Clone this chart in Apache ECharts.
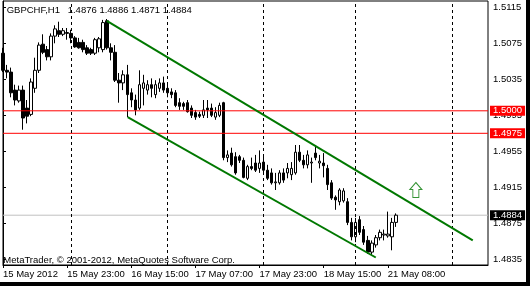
<!DOCTYPE html>
<html><head><meta charset="utf-8">
<script src="https://cdn.jsdelivr.net/npm/echarts@6/dist/echarts.min.js"></script>
<style>html,body{margin:0;padding:0;background:#fff}#c{width:530px;height:286px}</style>
</head><body><div id="c"></div>
<script>
const symbolName = 'GBPCHF,H1';
const opens = [1.5064,1.5045,1.5043,1.5023,1.5011,1.5023,1.5003,1.4996,1.5025,1.5045,
1.5074,1.5068,1.5060,1.5083,1.5089,1.5085,1.5086,1.5086,1.5081,1.5076,
1.5076,1.5070,1.5068,1.5064,1.5070,1.5068,1.5100,1.5070,1.5065,1.5034,
1.5031,1.5040,1.5020,1.5012,1.5003,1.5025,1.5023,1.5029,1.5018,1.5025,
1.5031,1.5025,1.5021,1.5020,1.5009,1.5008,1.5009,1.5003,1.4998,1.4996,
1.4995,1.5003,1.5003,1.4993,1.4995,1.5009,1.4948,1.4953,1.4949,1.4949,
1.4945,1.4925,1.4938,1.4942,1.4936,1.4943,1.4934,1.4931,1.4920,1.4920,
1.4931,1.4931,1.4929,1.4931,1.4954,1.4945,1.4940,1.4942,1.4953,1.4942,
1.4942,1.4936,1.4920,1.4904,1.4899,1.4900,1.4899,1.4876,1.4860,1.4879,
1.4868,1.4856,1.4843,1.4851,1.4859,1.4862,1.4861,1.4860,1.4876];
const highs = [1.5070,1.5051,1.5048,1.5029,1.5028,1.5028,1.5012,1.5036,1.5059,1.5076,
1.5085,1.5072,1.5086,1.5095,1.5099,1.5092,1.5092,1.5090,1.5083,1.5081,
1.5079,1.5073,1.5070,1.5081,1.5082,1.5101,1.5102,1.5075,1.5073,1.5042,
1.5045,1.5051,1.5025,1.5018,1.5045,1.5040,1.5034,1.5036,1.5034,1.5036,
1.5038,1.5029,1.5025,1.5023,1.5014,1.5010,1.5012,1.5006,1.5001,1.4999,
1.5012,1.5012,1.5008,1.5004,1.5009,1.5010,1.4956,1.4959,1.4954,1.4951,
1.4948,1.4940,1.4948,1.4951,1.4956,1.4951,1.4940,1.4936,1.4931,1.4934,
1.4936,1.4942,1.4943,1.4962,1.4962,1.4951,1.4956,1.4948,1.4962,1.4951,
1.4953,1.4940,1.4923,1.4906,1.4914,1.4914,1.4903,1.4881,1.4881,1.4883,
1.4872,1.4861,1.4856,1.4862,1.4868,1.4868,1.4888,1.4881,1.4886];
const lows = [1.5043,1.5036,1.5015,1.5006,1.5009,1.4979,1.4986,1.4994,1.5020,1.5042,
1.5063,1.5056,1.5056,1.5075,1.5082,1.5083,1.5079,1.5075,1.5070,1.5069,
1.5065,1.5062,1.5062,1.5062,1.5065,1.5065,1.5068,1.5056,1.5032,1.5009,
1.5023,1.4993,1.5004,1.4995,1.5001,1.5006,1.5018,1.5015,1.5014,1.5021,
1.5020,1.5015,1.5014,1.5004,1.5001,1.5001,1.4998,1.4992,1.4990,1.4992,
1.4992,1.4992,1.4993,1.4990,1.4993,1.4945,1.4943,1.4938,1.4929,1.4942,
1.4925,1.4923,1.4934,1.4932,1.4931,1.4932,1.4923,1.4918,1.4912,1.4918,
1.4920,1.4925,1.4923,1.4929,1.4943,1.4936,1.4936,1.4920,1.4945,1.4936,
1.4926,1.4912,1.4901,1.4890,1.4895,1.4898,1.4873,1.4856,1.4854,1.4862,
1.4851,1.4841,1.4840,1.4848,1.4856,1.4856,1.4859,1.4845,1.4871];
const closes = [1.5045,1.5043,1.5020,1.5012,1.5023,1.4992,1.4994,1.5032,1.5045,1.5073,
1.5065,1.5060,1.5083,1.5091,1.5085,1.5089,1.5087,1.5081,1.5071,1.5070,
1.5068,1.5064,1.5064,1.5079,1.5080,1.5098,1.5070,1.5065,1.5034,1.5031,
1.5040,1.5018,1.5012,1.5001,1.5029,1.5031,1.5029,1.5025,1.5029,1.5031,
1.5023,1.5020,1.5018,1.5006,1.5005,1.5005,1.4999,1.4995,1.4993,1.4994,
1.5001,1.5001,1.4995,1.4998,1.5006,1.4948,1.4951,1.4940,1.4931,1.4945,
1.4926,1.4938,1.4936,1.4934,1.4942,1.4934,1.4925,1.4920,1.4921,1.4931,
1.4923,1.4936,1.4936,1.4954,1.4945,1.4940,1.4951,1.4943,1.4948,1.4944,
1.4939,1.4918,1.4903,1.4901,1.4912,1.4911,1.4876,1.4860,1.4876,1.4865,
1.4854,1.4843,1.4853,1.4859,1.4865,1.4863,1.4863,1.4876,1.4884];
const slotCount = 122;
const tickIndex = [0,16,32,48,64,80,96];
const tickLabels = ['15 May 2012','15 May 23:00','16 May 15:00','17 May 07:00','17 May 23:00','18 May 15:00','21 May 08:00'];
const separatorIndex = [17,41,65,88,112];
const priceTicks = [1.4835,1.4875,1.4915,1.4955,1.4995,1.5035,1.5075,1.5115];
const levelLines = [1.5000, 1.4975];
const channelUpper = [[25.9,1.5100],[117.2,1.4856]];
const channelLower = [[31.1,1.4993],[93,1.4837]];
const arrowPoint = [[103,1.4912]];
const copyright = 'MetaTrader, \u00a9 2001-2012, MetaQuotes Software Corp.';

const FONT = 'Liberation Sans';
const FS = 9.5;
const GREEN = '#007800';
const last = closes.length - 1;
const bid = closes[last];
const headerValues = [opens[last], highs[last], lows[last], closes[last]].map(v => v.toFixed(4)).join(' ');
const categories = Array.from({length: slotCount}, (_, i) => String(i));
const candleData = opens.map((o, i) => [o, closes[i], lows[i], highs[i]]);
const showTick = (idx) => tickIndex.includes(idx);

function hLine(price, color, labelBg, z) {
  return {
    type: 'line', xAxisIndex: 1, data: [[0, price], [slotCount - 1, price]],
    symbol: 'none', silent: true, clip: false, z: z,
    lineStyle: {color: color, width: 1},
    endLabel: {show: true, distance: 2, color: '#fff', backgroundColor: labelBg,
      padding: [1, 3, 0, 3], lineHeight: 9, fontFamily: FONT, fontSize: FS,
      formatter: () => price.toFixed(4)}
  };
}

const chart = echarts.init(document.getElementById('c'), null, {renderer: 'canvas'});
chart.setOption({
  animation: false,
  backgroundColor: '#fff',
  textStyle: {fontFamily: FONT},
  grid: {left: 3, right: 42, top: 1, bottom: 21, show: true, borderColor: '#000', borderWidth: 1, backgroundColor: '#fff'},
  xAxis: [{
    type: 'category', data: categories, boundaryGap: false,
    axisLine: {show: true, lineStyle: {color: '#000', width: 1}},
    axisTick: {show: true, interval: showTick, length: 3, lineStyle: {color: '#000'}},
    axisLabel: {interval: showTick, align: 'left', margin: 4, color: '#000', fontFamily: FONT, fontSize: FS,
      formatter: (v) => { const k = tickIndex.indexOf(+v); return k >= 0 ? tickLabels[k] : ''; }},
    splitLine: {show: false}
  }, {
    type: 'value', min: 0, max: slotCount - 1, show: false
  }],
  yAxis: {
    type: 'value', position: 'right', min: 1.482867, max: 1.512200, scale: true,
    axisLine: {show: true, lineStyle: {color: '#000'}},
    axisTick: {show: true, length: 3, customValues: priceTicks, lineStyle: {color: '#000'}},
    axisLabel: {customValues: priceTicks, margin: 5, color: '#000', fontFamily: FONT, fontSize: FS, formatter: v => v.toFixed(4)},
    splitLine: {show: false}
  },
  graphic: [
    {type: 'text', left: 6.7, top: 5, style: {text: symbolName, fill: '#000', font: FS + 'px ' + FONT}, z: 100},
    {type: 'text', left: 67.7, top: 5, style: {text: headerValues, fill: '#000', font: FS + 'px ' + FONT}, z: 100},
    {type: 'text', left: 3.3, top: 255, style: {text: copyright, fill: '#000', font: FS + 'px ' + FONT}, z: 100},
    {type: 'rect', shape: {x: 526, y: 0, width: 4, height: 286}, style: {fill: '#000'}, z: 100},
    {type: 'rect', shape: {x: 0, y: 282, width: 530, height: 4}, style: {fill: '#000'}, z: 100}
  ],
  series: [
    {
      type: 'line', xAxisIndex: 1, data: [], silent: true, z: 1,
      markLine: {silent: true, symbol: 'none', animation: false,
        lineStyle: {color: '#000', type: [3, 3], width: 1},
        label: {show: false},
        data: separatorIndex.map(i => ({xAxis: i}))}
    },
    hLine(bid, '#c0c0c0', '#000', 2),
    {
      type: 'candlestick', xAxisIndex: 0, data: candleData, barWidth: 3, z: 3,
      itemStyle: {color: '#fff', color0: '#000', borderColor: '#000', borderColor0: '#000', borderWidth: 1}
    },
    ...levelLines.map(v => hLine(v, '#ff0000', '#ff0000', 4)),
    {
      type: 'line', xAxisIndex: 1, data: channelUpper, symbol: 'none', silent: true, z: 5,
      lineStyle: {color: GREEN, width: 2}
    },
    {
      type: 'line', xAxisIndex: 1, data: channelLower, symbol: 'none', silent: true, z: 5,
      lineStyle: {color: GREEN, width: 2}
    },
    {
      type: 'scatter', xAxisIndex: 1, data: arrowPoint, silent: true, z: 6,
      symbol: 'path://M6,0 L12,7 L9,7 L9,15 L3,15 L3,7 L0,7 Z', symbolSize: [12, 15],
      itemStyle: {color: '#fff', borderColor: GREEN, borderWidth: 1}
    }
  ]
});
</script></body></html>
